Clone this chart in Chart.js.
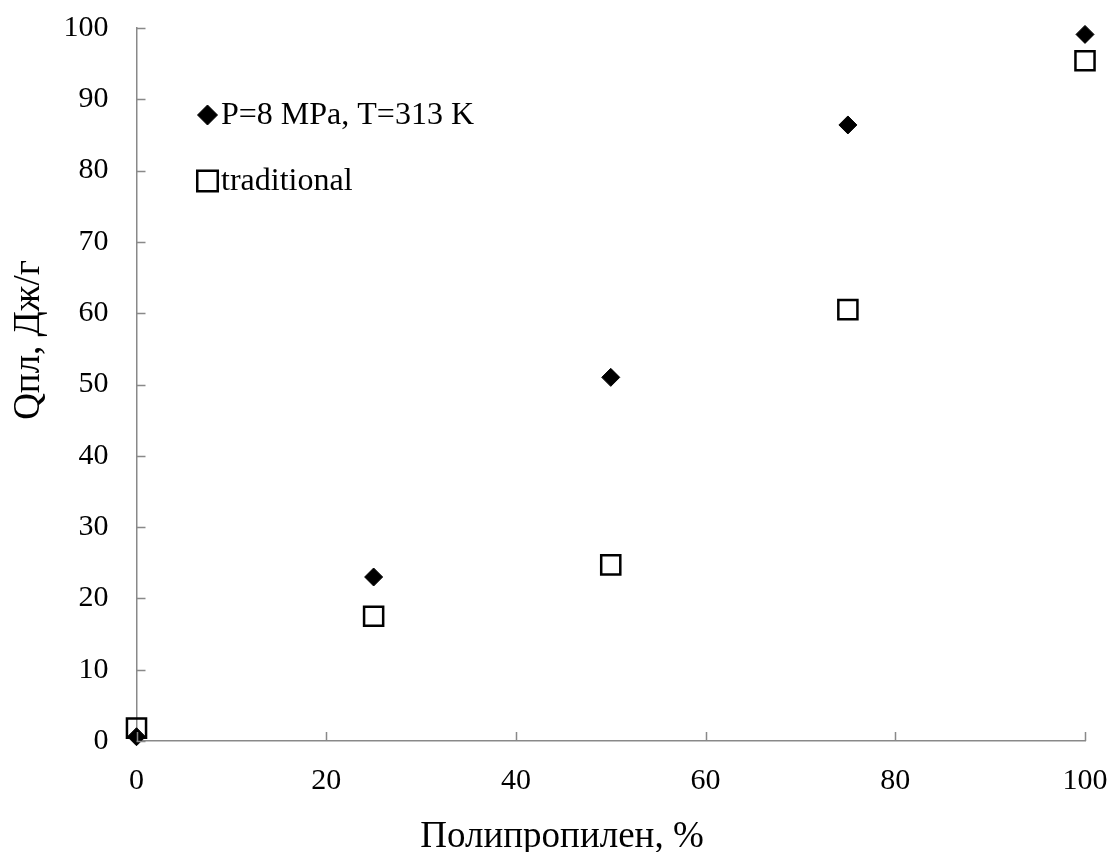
<!DOCTYPE html>
<html>
<head>
<meta charset="utf-8">
<script src="https://cdn.jsdelivr.net/npm/chart.js@4.4.1/dist/chart.umd.min.js"></script>
<style>
  html, body { margin: 0; padding: 0; background: #fff; }
  #wrap { width: 1112px; height: 852px; }
</style>
</head>
<body>
<div id="wrap"><canvas id="qChart" width="1112" height="852"></canvas></div>
<script>
const xValues = [0, 25, 50, 75, 100];
const pressureSeries = [0.6, 23.0, 51.0, 86.4, 99.1];
const traditionalSeries = [1.8, 17.5, 24.7, 60.5, 95.4];
const seriesLabels = ['P=8 MPa, T=313 K', 'traditional'];
const xTicks = [0, 20, 40, 60, 80, 100];
const yTicks = [0, 10, 20, 30, 40, 50, 60, 70, 80, 90, 100];
const xTitle = 'Полипропилен, %';
const yTitle = 'Qпл, Дж/г';

const serif = "'Liberation Serif', 'Times New Roman', serif";
const axisGrey = '#898989';

// small tick marks drawn inward, like the Excel original
const innerTicks = {
    id: 'innerTicks',
    afterDatasetsDraw(chart) {
        const ctx = chart.ctx;
        const area = chart.chartArea;
        const xs = chart.scales.x, ys = chart.scales.y;
        ctx.save();
        ctx.strokeStyle = axisGrey;
        ctx.lineWidth = 1.5;
        ctx.beginPath();
        yTicks.forEach(v => {
            const py = Math.round(ys.getPixelForValue(v)) + 0.5;
            ctx.moveTo(area.left, py);
            ctx.lineTo(area.left + 9, py);
        });
        xTicks.forEach(v => {
            const px = Math.round(xs.getPixelForValue(v)) + 0.5;
            ctx.moveTo(px, area.bottom);
            ctx.lineTo(px, area.bottom - 9);
        });
        ctx.stroke();
        ctx.restore();
    }
};

// legend inside the plot, stacked vertically, plus both axis titles (moved off-centre in the original)
const innerLegend = {
    id: 'innerLegend',
    afterDraw(chart) {
        const ctx = chart.ctx;
        const items = [
            { style: 'rectRot', radius: 10, fill: '#000', border: 1, y: 115 },
            { style: 'rect', radius: 14.5, fill: '#fff', border: 2.5, y: 181 }
        ];
        ctx.save();
        ctx.font = '32px ' + serif;
        ctx.textBaseline = 'middle';
        items.forEach((it, i) => {
            ctx.fillStyle = it.fill;
            ctx.strokeStyle = '#000';
            ctx.lineWidth = it.border;
            Chart.helpers.drawPoint(ctx, { pointStyle: it.style, radius: it.radius, borderWidth: it.border }, 207.5, it.y);
            ctx.fillStyle = '#000';
            ctx.fillText(seriesLabels[i], 221, it.y + 1);
        });

        ctx.font = '37px ' + serif;
        ctx.textAlign = 'center';
        ctx.textBaseline = 'alphabetic';
        ctx.fillText(xTitle, 562, 847);

        ctx.translate(29, 340);
        ctx.rotate(-Math.PI / 2);
        ctx.textBaseline = 'middle';
        ctx.fillText(yTitle, 0, 0);
        ctx.restore();
    }
};

const data = {
    datasets: [
        {
            label: seriesLabels[0],
            data: xValues.map((x, i) => ({ x: x, y: pressureSeries[i] })),
            pointStyle: 'rectRot',
            pointRadius: 9,
            pointHoverRadius: 9,
            backgroundColor: '#000',
            borderColor: '#000',
            borderWidth: 1,
            showLine: false,
            clip: false
        },
        {
            label: seriesLabels[1],
            data: xValues.map((x, i) => ({ x: x, y: traditionalSeries[i] })),
            pointStyle: 'rect',
            pointRadius: 13.5,
            pointHoverRadius: 13.5,
            backgroundColor: 'rgba(255,255,255,0)',
            borderColor: '#000',
            borderWidth: 2.5,
            showLine: false,
            clip: false
        }
    ]
};

const config = {
    type: 'scatter',
    data: data,
    options: {
        responsive: false,
        animation: false,
        layout: { autoPadding: false, padding: { left: 0, right: 27, top: 28, bottom: 0 } },
        plugins: {
            legend: { display: false },
            tooltip: { enabled: false }
        },
        scales: {
            x: {
                type: 'linear',
                min: 0,
                max: 100,
                afterBuildTicks: s => { s.ticks = xTicks.map(v => ({ value: v })); },
                afterFit: s => { s.height = 111; s.paddingLeft = 0; s.paddingRight = 0; },
                border: { color: axisGrey, width: 1.5 },
                grid: { drawOnChartArea: false, drawTicks: false },
                ticks: {
                    padding: 22,
                    color: '#000',
                    font: { family: serif, size: 30 }
                }
            },
            y: {
                type: 'linear',
                min: 0,
                max: 100,
                afterBuildTicks: s => { s.ticks = yTicks.map(v => ({ value: v })); },
                afterFit: s => { s.width = 136.5; s.paddingTop = 0; s.paddingBottom = 0; },
                border: { color: axisGrey, width: 1.5 },
                grid: { drawOnChartArea: false, drawTicks: false },
                ticks: {
                    padding: 28,
                    color: '#000',
                    font: { family: serif, size: 30 }
                }
            }
        }
    },
    plugins: [innerTicks, innerLegend]
};

const qChart = new Chart(document.getElementById('qChart').getContext('2d'), config);
</script>
</body>
</html>
